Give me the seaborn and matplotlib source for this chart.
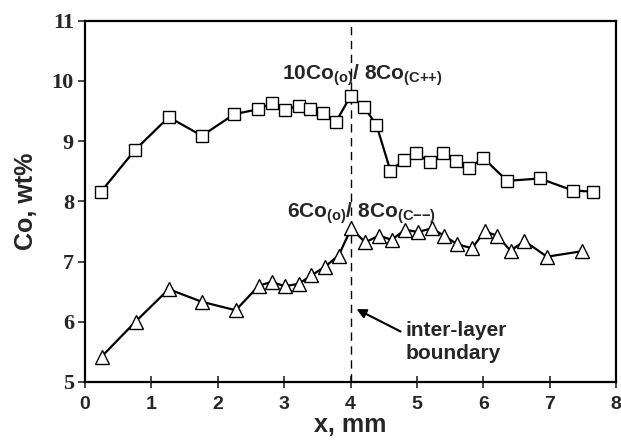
import pandas as pd
import seaborn as sns
import matplotlib.pyplot as plt

# 10Co(o) / 8Co(C++) profile (squares)
x_sq = [0.24, 0.75, 1.26, 1.76, 2.25, 2.61, 2.81, 3.01, 3.22, 3.39, 3.58, 3.78, 4.00,
        4.20, 4.39, 4.60, 4.80, 4.99, 5.19, 5.39, 5.59, 5.79, 6.00, 6.36, 6.85, 7.35, 7.66]
co_sq = [8.16, 8.85, 9.40, 9.09, 9.45, 9.53, 9.63, 9.52, 9.59, 9.54, 9.47, 9.32, 9.75,
         9.57, 9.27, 8.51, 8.68, 8.80, 8.65, 8.80, 8.67, 8.56, 8.72, 8.34, 8.38, 8.18, 8.16]

# 6Co(o) / 8Co(C--) profile (triangles)
x_tr = [0.25, 0.76, 1.26, 1.76, 2.27, 2.62, 2.81, 3.01, 3.22, 3.41, 3.61, 3.82, 4.01, 4.22,
        4.43, 4.62, 4.82, 5.01, 5.22, 5.41, 5.60, 5.83, 6.02, 6.21, 6.41, 6.62, 6.96, 7.48]
co_tr = [5.42, 6.00, 6.54, 6.33, 6.19, 6.60, 6.66, 6.59, 6.63, 6.77, 6.91, 7.10, 7.55, 7.32,
         7.43, 7.36, 7.53, 7.49, 7.55, 7.43, 7.29, 7.22, 7.50, 7.43, 7.18, 7.34, 7.08, 7.17]

x_ticks = [0, 1, 2, 3, 4, 5, 6, 7, 8]
y_ticks = [5, 6, 7, 8, 9, 10, 11]
boundary_x = 4.0

sns.set_style('ticks')
plt.rcParams['font.family'] = ['Liberation Sans', 'DejaVu Sans']

fig = plt.figure(figsize=(6.21, 4.43), dpi=100)
ax = fig.add_axes([0.137, 0.138, 0.855, 0.815])

df_sq = pd.DataFrame({'x': x_sq, 'co': co_sq})
df_tr = pd.DataFrame({'x': x_tr, 'co': co_tr})

ax.axvline(boundary_x, color='black', lw=1.0, ls=(0, (6, 4)), zorder=1)

sns.lineplot(data=df_sq, x='x', y='co', ax=ax, color='black', lw=1.6,
             marker='s', markersize=8.5, markerfacecolor='white',
             markeredgecolor='black', markeredgewidth=1.0, zorder=3)
sns.lineplot(data=df_tr, x='x', y='co', ax=ax, color='black', lw=1.6,
             marker='^', markersize=9.5, markerfacecolor='white',
             markeredgecolor='black', markeredgewidth=1.0, zorder=3)

ax.set_xlim(0, 8)
ax.set_ylim(5, 11)
ax.set_xticks(x_ticks)
ax.set_yticks(y_ticks)
ax.set_xticklabels([str(v) for v in x_ticks], fontsize=14, fontweight='bold',
                   family='Liberation Sans')
ax.set_yticklabels([str(v) for v in y_ticks], fontsize=16, fontweight='bold',
                   family='Liberation Serif')
ax.tick_params(axis='x', direction='inout', length=8, width=1.2, pad=6)
ax.tick_params(axis='y', direction='out', length=5, width=1.2, pad=3)
for s in ax.spines.values():
    s.set_visible(True)
    s.set_linewidth(1.6)
    s.set_color('black')

ax.set_xlabel('x, mm', fontsize=18, fontweight='bold', labelpad=0)
ax.set_ylabel('Co, wt%', fontsize=18, fontweight='bold', labelpad=10)

ax.text(4.18, 10.09, r'10Co$_{\mathregular{(o)}}$/ 8Co$_{\mathregular{(C{+}{+})}}$',
        fontsize=15, fontweight='bold', ha='center', va='center')
ax.text(4.17, 7.81, r'6Co$_{\mathregular{(o)}}$/ 8Co$_{\mathregular{(C{-}{-})}}$',
        fontsize=15, fontweight='bold', ha='center', va='center')

ax.annotate('inter-layer\nboundary', xy=(4.09, 6.21), xytext=(4.83, 5.66),
            fontsize=15, fontweight='bold', ha='left', va='center', linespacing=1.3,
            arrowprops=dict(arrowstyle='-|>', color='black', lw=1.5,
                            shrinkA=0, shrinkB=0, mutation_scale=14,
                            relpos=(-0.05, 0.75)))

fig.savefig('out.png', dpi=100)
